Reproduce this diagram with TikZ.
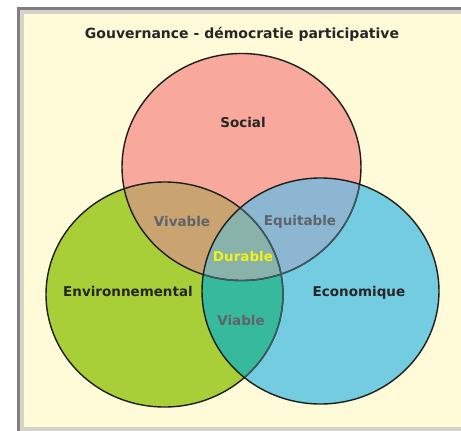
\documentclass[tikz,border=0pt]{standalone}
\usepackage{fontspec}
\setmainfont{DejaVu Sans}
\definecolor{bgcream}{HTML}{FFFAD8}
\definecolor{framegray}{HTML}{7F7F7F}
\definecolor{innergray}{HTML}{D4D4CC}
\definecolor{socialc}{HTML}{F8A99B}
\definecolor{envc}{HTML}{A8CF38}
\definecolor{ecoc}{HTML}{74CCE0}
\definecolor{vivc}{HTML}{C9A470}
\definecolor{equc}{HTML}{8DB6D3}
\definecolor{viac}{HTML}{37B99B}
\definecolor{durc}{HTML}{88B2AA}
\definecolor{labgray}{HTML}{5E6468}
\definecolor{durtext}{HTML}{F2F21A}
\definecolor{edge}{HTML}{1E1E1E}
\definecolor{softedge}{HTML}{3E5A60}
\tikzset{
  main/.style={font=\bfseries\fontsize{13.5}{15}\selectfont, text=black!85},
  inter/.style={font=\bfseries\fontsize{13.5}{15}\selectfont, text=labgray},
  titlestyle/.style={font=\bfseries\fontsize{14}{16}\selectfont, text=black!85},
  ring/.style={draw=edge, line width=1.4pt},
  softring/.style={draw=softedge, line width=1.4pt}
}
\begin{document}
\begin{tikzpicture}[x=1pt,y=-1pt]
\useasboundingbox (0,0) rectangle (461,431);
\fill[white] (0,0) rectangle (461,431);
% frame
\fill[bgcream] (20,10) rectangle (461,431);
\fill[framegray] (17,7) rectangle (461,10);
\fill[framegray] (17,7) rectangle (20,431);
\fill[innergray] (20,10) rectangle (461,14);
\fill[innergray] (20,10) rectangle (24,431);
\fill[innergray] (20,427) rectangle (461,431);
% base fills
\fill[envc] (164.5,294.5) ellipse [x radius=118.5, y radius=112.5];
\fill[socialc] (241.5,167) ellipse [x radius=119.5, y radius=113.5];
\fill[ecoc] (320.5,291) ellipse [x radius=118.5, y radius=113];
% pairwise intersections
\begin{scope}
  \clip (241.5,167) ellipse [x radius=119.5, y radius=113.5];
  \fill[vivc] (164.5,294.5) ellipse [x radius=118.5, y radius=112.5];
  \fill[equc] (320.5,291) ellipse [x radius=118.5, y radius=113];
\end{scope}
\begin{scope}
  \clip (164.5,294.5) ellipse [x radius=118.5, y radius=112.5];
  \fill[viac] (320.5,291) ellipse [x radius=118.5, y radius=113];
  \clip (320.5,291) ellipse [x radius=118.5, y radius=113];
  \fill[durc] (241.5,167) ellipse [x radius=119.5, y radius=113.5];
\end{scope}
% outlines
\draw[ring] (164.5,294.5) ellipse [x radius=118.5, y radius=112.5];
\draw[ring] (241.5,167) ellipse [x radius=119.5, y radius=113.5];
\begin{scope}
  \clip (320.5,291) ellipse [x radius=118.5, y radius=113];
  \draw[softring] (164.5,294.5) ellipse [x radius=118.5, y radius=112.5];
  \draw[softring] (241.5,167) ellipse [x radius=119.5, y radius=113.5];
\end{scope}
\draw[ring] (320.5,291) ellipse [x radius=118.5, y radius=113];
% texts
\node[titlestyle] (title) at (242,34) {Gouvernance - démocratie participative};
\node[main] (social) at (243,122) {Social};
\node[main] (env) at (128,291) {Environnemental};
\node[main] (eco) at (359,292.5) {Economique};
\node[inter] (vivable) at (182,221) {Vivable};
\node[inter] (equitable) at (300,222) {Equitable};
\node[inter] (viable) at (241,320) {Viable};
\node[font=\bfseries\fontsize{13.5}{15}\selectfont, text=durtext] (durable) at (243,256) {Durable};
\end{tikzpicture}
\end{document}
